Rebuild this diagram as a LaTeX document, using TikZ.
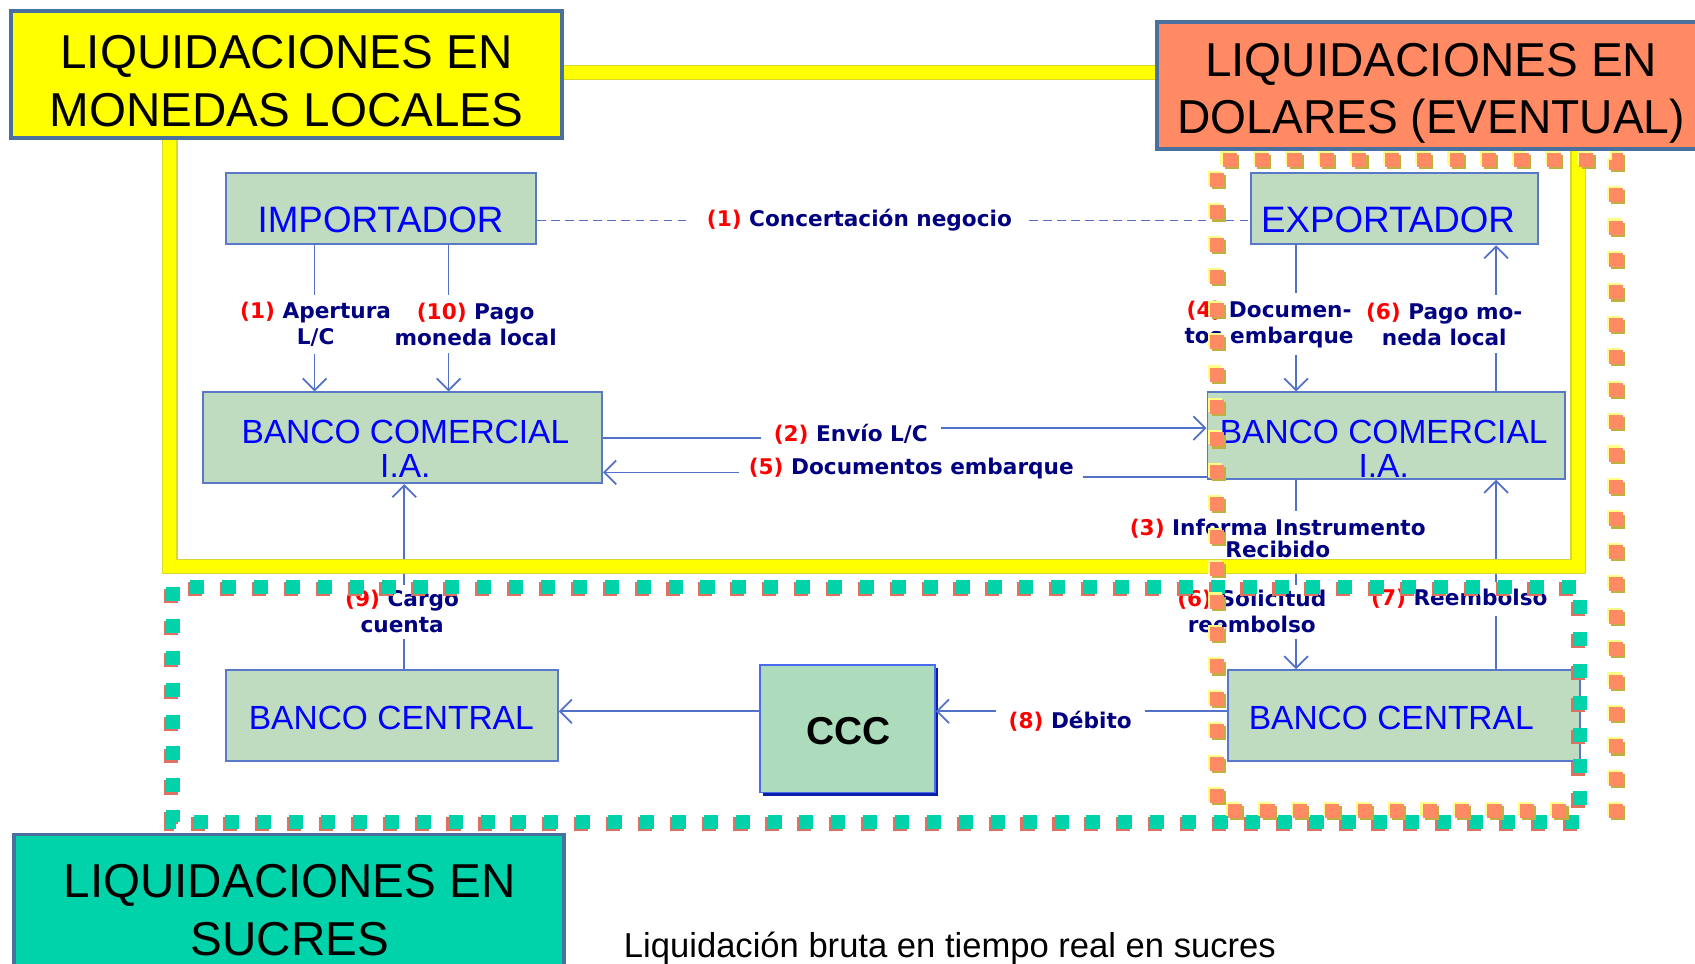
\documentclass[tikz,border=0pt]{standalone}
\usepackage{fontspec}
\setmainfont{Liberation Sans}
\newfontfamily\lblfont{DejaVu Sans}
\usetikzlibrary{arrows.meta,shadows}
\definecolor{ttlborder}{HTML}{4A70A0}
\definecolor{ttlyellow}{HTML}{FFFF00}
\definecolor{ttlorange}{HTML}{FF8A64}
\definecolor{ttlteal}{HTML}{00D2AA}
\definecolor{boxfill}{HTML}{C0DCC0}
\definecolor{boxline}{HTML}{5A78C8}
\definecolor{conncol}{HTML}{5272C8}
\definecolor{navytext}{HTML}{000080}
\definecolor{rednum}{HTML}{FF0000}
\definecolor{cccfill}{HTML}{ACDCBC}
\definecolor{cccline}{HTML}{4A6AF0}
\definecolor{cccshadow}{HTML}{0A20A8}
\definecolor{tealshadow}{HTML}{E07060}
\definecolor{orahigh}{HTML}{FFFF88}
\definecolor{orashadow}{HTML}{C0B040}
\definecolor{yelledge}{HTML}{D8D830}
\newcommand\rnum[1]{\textcolor{rednum}{#1}}
\begin{document}
\begin{tikzpicture}[x=1pt,y=-1pt,
  gbox/.style={draw=boxline, fill=boxfill, line width=1.8pt, inner sep=0pt},
  gtext/.style={text=blue, align=center, inner sep=0pt},
  tbox/.style={draw=ttlborder, line width=3.5pt, inner sep=0pt},
  ttext/.style={align=center, font=\fontsize{44}{53}\selectfont, inner sep=0pt},
  lbl/.style={fill=white, align=center, text=navytext, inner xsep=9pt, inner ysep=7pt, font=\lblfont\bfseries\fontsize{20}{24}\selectfont},
  conn/.style={draw=conncol, line width=1.6pt},
  arr/.style={conn, -{Straight Barb[length=11pt,width=22pt]}},
  tealdots/.style={line width=13pt, dash pattern=on 13pt off 16.5pt},
  oradots/.style={line width=13pt, dash pattern=on 13pt off 17pt},
]
\useasboundingbox (0,0) rectangle (1568,891);
\fill[white] (0,0) rectangle (1568,891);

% boxes
\node[gbox, minimum width=287pt, minimum height=66pt] (imp) at (352.5,193) {};
\node[gtext, font=\fontsize{34}{40}\selectfont] (impt) at (352,203) {IMPORTADOR};
\node[gbox, minimum width=266pt, minimum height=66pt] (exp) at (1290,193) {};
\node[gtext, font=\fontsize{34}{40}\selectfont] (expt) at (1284,203) {EXPORTADOR};
\node[gbox, minimum width=369pt, minimum height=84pt] (lbc) at (372.5,405) {};
\node[gtext, font=\fontsize{31}{32}\selectfont] (lbct) at (375,415) {BANCO COMERCIAL\\I.A.};
\node[gbox, minimum width=331pt, minimum height=80pt] (rbc) at (1282.5,403) {};
\node[gtext, font=\fontsize{31}{32}\selectfont] (rbct) at (1280,415) {BANCO COMERCIAL\\I.A.};
\node[gbox, minimum width=307pt, minimum height=84pt] (lbcen) at (362.5,662) {};
\node[gtext, font=\fontsize{31}{36}\selectfont] (lbcent) at (362,664) {BANCO CENTRAL};
\node[gbox, minimum width=326pt, minimum height=84pt] (rbcen) at (1299,662) {};
\node[gtext, font=\fontsize{31}{36}\selectfont] (rbcent) at (1287,664) {BANCO CENTRAL};
\node[draw=cccline, fill=cccfill, line width=1.5pt, minimum width=162pt, minimum height=118pt, inner sep=0pt,
      drop shadow={shadow xshift=3pt, shadow yshift=-3pt, fill=cccshadow, opacity=1}] (ccc) at (784,674) {};
\node[font=\bfseries\fontsize{36}{40}\selectfont, inner sep=0pt] (ccct) at (785,676) {CCC};

% helper coordinates
\coordinate (xA) at (291,0);
\coordinate (xB) at (415,0);
\coordinate (xC) at (1199,0);
\coordinate (xD) at (1384,0);
\coordinate (xE) at (374,0);
\coordinate (yDash) at (0,204);
\coordinate (yEnvL) at (0,405);
\coordinate (yEnvR) at (0,396);
\coordinate (yDocL) at (0,437);
\coordinate (yDocR) at (0,441);
\coordinate (yDeb) at (0,658);
\coordinate (cEnv) at (787,402);
\coordinate (cDoc) at (843,433);

% connectors
\draw[conn, dash pattern=on 8pt off 5pt] (imp.east |- yDash) -- (exp.west |- yDash);
\draw[arr] (imp.south -| xA) -- (lbc.north -| xA);
\draw[arr] (imp.south -| xB) -- (lbc.north -| xB);
\draw[arr] (exp.south -| xC) -- (rbc.north -| xC);
\draw[arr] (rbc.north -| xD) -- (exp.south -| xD);
\draw[arr] (lbc.east |- yEnvL) -| (cEnv) |- (rbc.west |- yEnvR);
\draw[arr] (rbc.west |- yDocR) -| (cDoc) |- (lbc.east |- yDocL);
\draw[arr] (rbc.south -| xC) -- (rbcen.north -| xC);
\draw[arr] (rbcen.north -| xD) -- (rbc.south -| xD);
\draw[arr] (lbcen.north -| xE) -- (lbc.south -| xE);
\draw[arr] (rbcen.west |- yDeb) -- (ccc.east |- yDeb);
\draw[arr] (ccc.west |- yDeb) -- (lbcen.east |- yDeb);

% labels
\node[lbl, inner xsep=14pt] (l1) at (795,204) {\rnum{(1)} Concertación negocio};
\node[lbl, inner xsep=2pt] (l10) at (440,300) {\rnum{(10)} Pago\\moneda local};
\node[lbl, inner xsep=2pt] (l1a) at (292,300) {\rnum{(1)} Apertura\\L/C};
\node[lbl, inner xsep=2pt] (l6) at (1336,300) {\rnum{(6)} Pago mo-\\neda local};
\node[lbl, inner xsep=2pt] (l4) at (1174,300) {\rnum{(4)} Documen-\\tos embarque};
\node[lbl, inner xsep=12pt] (l2) at (cEnv) {\rnum{(2)} Envío L/C};
\node[lbl, inner ysep=4pt] (l5) at (cDoc) {\rnum{(5)} Documentos embarque};
\node[lbl] (l3) at (1182,498) {\rnum{(3)} Informa Instrumento\\[-3pt]Recibido};
\node[lbl, inner ysep=5pt] (l6b) at (1158,566) {\rnum{(6)} Solicitud\\reembolso};
\node[lbl] (l7) at (1350,554) {\rnum{(7)} Reembolso};
\node[lbl, inner ysep=5pt] (l9) at (372,566) {\rnum{(9)} Cargo\\cuenta};
\node[lbl, inner xsep=12pt] (l8) at (990,667) {\rnum{(8)} Débito};

% yellow frame
\draw[yelledge, line width=14.5pt] (157,67) rectangle (1460,524);
\draw[ttlyellow, line width=12.5pt] (157,67) rectangle (1460,524);

% teal dotted frame
\draw[tealshadow, tealdots, shift={(-2,2)}] (160,543) rectangle (1462,760);
\draw[ttlteal, tealdots] (160,543) rectangle (1462,760);

% orange dotted frame
\draw[orahigh, oradots, shift={(-2,-2)}] (1495,757) -- (1495,148) -- (1126,148) -- (1126,750) -- (1465,750);
\draw[orashadow, oradots, shift={(2,2)}] (1495,757) -- (1495,148) -- (1126,148) -- (1126,750) -- (1465,750);
\draw[ttlorange, oradots] (1495,757) -- (1495,148) -- (1126,148) -- (1126,750) -- (1465,750);

% title boxes
\node[tbox, fill=ttlyellow, minimum width=510pt, minimum height=118pt] (t1) at (265,69) {};
\node[ttext] (t1t) at (265,75) {LIQUIDACIONES EN\\MONEDAS LOCALES};
\node[tbox, fill=ttlorange, minimum width=510pt, minimum height=118pt] (t2) at (1325,79) {};
\node[ttext] (t2t) at (1324,86) {LIQUIDACIONES EN\\\scalebox{0.97}[1]{DOLARES (EVENTUAL)}};
\node[tbox, fill=ttlteal, minimum width=509pt, minimum height=133pt] (t3) at (267.5,838.5) {};
\node[ttext] (t3t) at (268,842) {LIQUIDACIONES EN\\SUCRES};
\node[anchor=base west, font=\fontsize{32}{36}\selectfont, inner sep=0pt] (cap) at (577,886) {Liquidación bruta en tiempo real en sucres};
\end{tikzpicture}
\end{document}
